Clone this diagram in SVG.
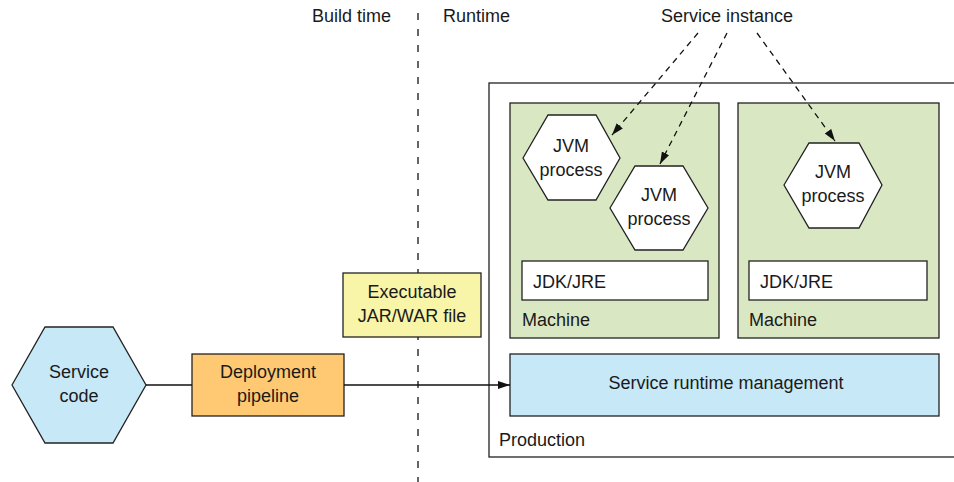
<svg xmlns="http://www.w3.org/2000/svg" width="954" height="482" viewBox="0 0 954 482">
<defs>
<style>
text{font-family:"Liberation Sans",Arial,sans-serif;font-size:18px;fill:#1a1a1a}
.c{text-anchor:middle}
.box{stroke:#222;stroke-width:1.3}
.ln{stroke:#111;stroke-width:1.3;fill:none}
.dash{stroke:#111;stroke-width:1.3;fill:none;stroke-dasharray:6 5}
</style>
<marker id="ah" viewBox="0 0 12 10" refX="12" refY="5" markerWidth="12" markerHeight="10" markerUnits="userSpaceOnUse" orient="auto">
<path d="M0,1 L12,5 L0,9 Z" fill="#111"/>
</marker>
</defs>
<rect width="954" height="482" fill="#fff"/>
<g id="labels">
<text x="312" y="22">Build time</text>
<text x="443" y="22">Runtime</text>
</g>
<g id="divider">
<line x1="418" y1="13" x2="418" y2="482" stroke="#333" stroke-width="1.5" stroke-dasharray="7 9"/>
</g>
<g id="production">
<rect class="box" x="489" y="83" width="480" height="374" fill="#fff"/>
<text x="499" y="446">Production</text>
</g>
<g id="machine1">
<rect class="box" x="510" y="103" width="209" height="235" fill="#D9E8C3"/>
<text x="522" y="326">Machine</text>
</g>
<g id="machine2">
<rect class="box" x="738" y="103" width="201" height="235" fill="#D9E8C3"/>
<text x="749" y="326">Machine</text>
</g>
<g id="jdk1">
<rect class="box" x="522" y="261" width="186" height="39" fill="#fff"/>
<text x="533" y="288">JDK/JRE</text>
</g>
<g id="jdk2">
<rect class="box" x="749" y="261" width="178" height="39" fill="#fff"/>
<text x="760" y="288">JDK/JRE</text>
</g>
<g id="jvm1">
<polygon class="box" points="523,158 548,115 596,115 620,158 596,200 548,200" fill="#fff"/>
<text class="c" x="571" y="152">JVM</text>
<text class="c" x="571" y="176">process</text>
</g>
<g id="jvm2">
<polygon class="box" points="610,208 635,166 683,166 708,208 683,250 635,250" fill="#fff"/>
<text class="c" x="659" y="201">JVM</text>
<text class="c" x="659" y="225">process</text>
</g>
<g id="jvm3">
<polygon class="box" points="784,185 809,143 859,143 882,185 859,228 809,228" fill="#fff"/>
<text class="c" x="833" y="178">JVM</text>
<text class="c" x="833" y="202">process</text>
</g>
<g id="runtime-mgmt">
<rect class="box" x="510" y="354" width="429" height="62" fill="#C6E8F7"/>
<text class="c" x="726" y="389">Service runtime management</text>
</g>
<g id="service-instance">
<text class="c" x="727" y="22">Service instance</text>
</g>
<g id="service-code">
<polygon class="box" points="12,385 45,327 113,327 146,385 113,443 45,443" fill="#C6E8F7"/>
<text class="c" x="79" y="378">Service</text>
<text class="c" x="79" y="402">code</text>
</g>
<g id="deployment-pipeline">
<rect class="box" x="192" y="354" width="152" height="62" fill="#FFC973"/>
<text class="c" x="268" y="378">Deployment</text>
<text class="c" x="268" y="402">pipeline</text>
</g>
<g id="executable">
<rect class="box" x="343" y="273" width="138" height="64" fill="#F9F5A8"/>
<text class="c" x="412" y="298">Executable</text>
<text class="c" x="412" y="322">JAR/WAR file</text>
</g>
<g id="connectors">
<line class="ln" x1="146" y1="385" x2="192" y2="385"/>
<line class="ln" x1="344" y1="385" x2="510" y2="385" marker-end="url(#ah)"/>
<line class="dash" x1="698" y1="33" x2="612" y2="135" marker-end="url(#ah)"/>
<line class="dash" x1="727" y1="33" x2="660" y2="164" marker-end="url(#ah)"/>
<line class="dash" x1="757" y1="33" x2="835" y2="141" marker-end="url(#ah)"/>
</g>
</svg>
